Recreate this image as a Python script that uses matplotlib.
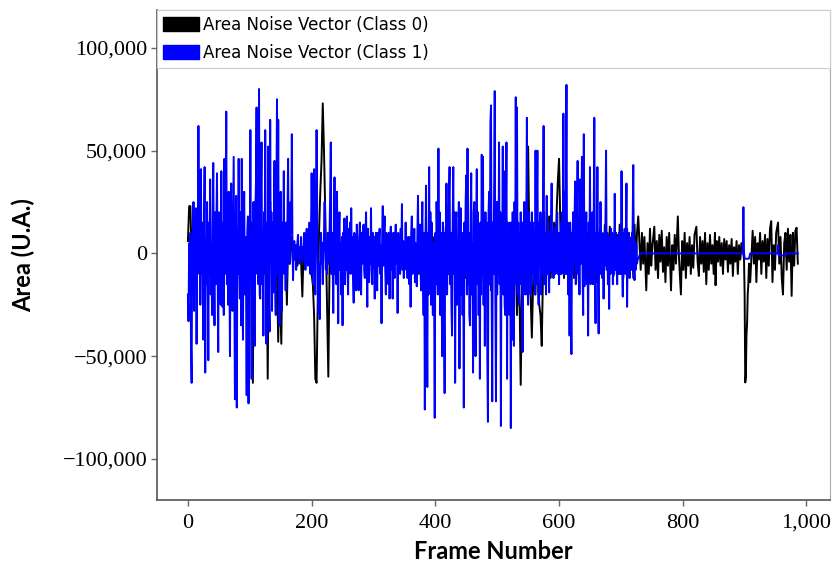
import matplotlib
matplotlib.use("Agg")
import matplotlib.pyplot as plt
from matplotlib.patches import Patch
from matplotlib.ticker import FuncFormatter
import numpy as np

# (frame, area in thousands)
CLASS0_POINTS = [
    (0, 6), (2, 23), (4, 23), (6, -1), (8, 7), (11, 0), (14, 4), (17, -4), (20, 2), (23, -3),
    (26, 5), (29, -2), (32, 3), (35, -5), (38, 2), (41, -3), (44, 6), (47, -2), (50, 3), (53, -4),
    (56, 2), (59, -2), (62, 4), (65, -3), (68, 1), (71, -4), (74, 3), (77, -2), (80, 5), (83, -3),
    (86, 2), (89, -4), (92, 3), (95, -2), (98, 4), (101, 2), (103, 15), (105, -63), (107, 25), (109, 5),
    (112, -8), (115, 10), (118, -5), (121, 8), (124, -10), (127, 12), (129, -61), (131, 10), (133, 25), (135, -5),
    (138, 8), (141, -15), (143, 10), (146, -43), (148, -10), (151, -44), (153, 5), (156, -8), (158, 3), (160, -25),
    (162, 5), (165, -5), (168, 8), (171, -3), (174, 4), (177, -6), (180, 3), (183, -4), (185, -21), (187, 2),
    (190, 5), (193, -3), (196, 4), (199, -8), (202, -15), (204, -30), (206, -61), (208, -63), (210, -20), (212, 10),
    (214, 30), (216, 45), (218, 73), (220, 50), (222, 20), (224, -10), (227, -60), (229, -5), (232, 5), (235, -3),
    (238, 6), (241, -4), (244, 3), (247, -6), (250, 2), (253, -5), (256, 4), (259, -8), (262, 3), (265, -4),
    (268, 7), (271, -5), (274, 2), (277, -6), (280, 4), (283, -3), (286, 5), (289, -7), (292, 2), (295, -4),
    (298, 6), (301, -3), (304, 8), (307, -5), (310, 3), (313, -6), (316, 4), (319, -3), (322, 5), (325, -8),
    (328, 2), (331, -4), (334, 10), (337, -3), (340, 4), (343, -9), (346, 2), (349, -6), (352, 3), (355, -2),
    (358, 5), (361, -4), (364, 3), (367, -6), (370, 4), (373, -3), (376, 2), (379, -5), (382, 3), (385, -12),
    (387, -19), (390, 5), (393, -6), (396, 8), (399, -3), (403, 8), (406, -10), (409, 5), (412, -15), (415, 10),
    (418, -8), (421, 12), (424, -14), (427, 6), (430, -10), (433, 15), (436, -6), (439, 10), (442, -18), (445, 8),
    (448, -12), (451, 14), (454, -5), (457, 10), (460, -15), (463, 6), (466, -8), (469, 12), (472, -10), (475, 5),
    (478, -14), (481, 15), (484, -8), (487, 10), (490, -18), (493, 8), (496, -10), (499, 14), (502, -6), (505, 18),
    (508, -12), (511, 10), (514, -20), (517, 12), (520, -8), (523, 15), (526, -25), (529, 10), (532, -30), (535, 5),
    (537, -40), (538, -64), (540, -20), (542, 15), (544, -10), (546, 20), (548, 10), (550, 52), (552, 5), (554, -20),
    (556, -41), (558, -15), (560, 10), (562, -20), (564, 15), (566, -10), (568, -25), (570, -30), (572, -45), (574, -10),
    (576, 20), (578, -15), (580, 10), (582, -8), (584, 18), (586, -12), (588, 5), (590, -10), (592, 15), (594, -5),
    (596, 20), (598, 35), (600, 46), (602, 15), (604, -8), (606, 10), (608, -12), (610, 18), (612, -10), (614, 8),
    (616, -15), (618, 12), (620, -6), (622, 10), (624, -12), (626, 15), (628, -8), (630, 6), (632, -14), (634, 12),
    (636, -5), (638, 9), (640, -10), (642, 14), (644, -6), (646, 10), (648, -12), (650, 8), (652, -9), (654, 12),
    (656, -5), (658, 10), (660, -14), (662, 8), (664, -7), (666, 12), (668, -10), (670, 5), (672, -12), (674, 14),
    (676, -6), (678, 10), (680, -9), (682, 13), (684, -5), (686, 8), (688, -11), (690, 12), (692, -4), (694, 9),
    (696, -10), (698, 14), (700, -6), (702, 10), (704, -12), (706, 8), (708, -5), (710, 12), (712, -10), (714, 6),
    (716, -8), (718, 10), (720, -12), (722, 14), (724, -6), (726, 10), (728, 18), (730, 5), (732, -8), (734, 10),
    (736, -5), (738, 8), (741, -18), (743, 5), (745, -10), (747, 12), (749, -6), (751, 4), (754, 13), (756, -8),
    (758, 6), (760, -12), (762, 9), (764, -4), (766, 11), (768, -9), (770, 3), (772, -14), (774, 8), (776, -6),
    (778, 10), (781, -18), (783, 4), (785, -8), (787, 9), (789, -5), (792, 18), (794, -3), (797, -20), (799, 6),
    (801, -8), (803, 10), (805, -12), (807, 5), (809, -6), (811, 8), (813, -10), (815, 4), (817, -7), (819, 9),
    (822, 13), (824, -4), (826, -11), (828, 8), (830, -5), (832, 6), (834, -9), (836, 10), (838, -15), (840, 5),
    (842, -8), (844, 9), (846, -5), (848, 4), (850, -10), (852, 10), (853, -15.5), (855, 6), (857, -4), (859, 8),
    (861, -6), (863, 5), (865, -10), (867, 7), (869, -3), (871, 6), (873, -9), (875, 4), (877, -5), (879, 7),
    (881, -11), (883, 3), (885, -4), (887, 6), (889, -10), (891, 4), (893, -3), (895, 5), (897, 2), (899, -3),
    (900, -20), (901, -62.8), (902, -60), (903, -40), (904, -33.6), (905, -20), (906, -15), (907, -5), (909, -14), (911, -2),
    (913, 11), (915, -5), (917, 8), (919, -14), (921, 5), (923, -3), (925, 10), (927, -10), (929, 6), (931, -4),
    (933, 9), (935, -12), (937, 7), (939, -6), (941, 12), (943, 15.7), (945, -14), (947, 4), (949, -8), (951, 10),
    (954, 15), (956, -5), (958, 8), (960, -12), (962, -20), (964, 5), (966, 10), (968, -8), (970, 12), (972, -4),
    (974, 9), (976, -20.7), (978, 10), (980, -6), (982, 11), (984, 12.5), (986, -5),
]

CLASS1_POINTS = [
    # frames 0-170
    (0, -20), (1, -33), (2, 5), (3, -15), (4, 10), (5, -45), (6, -63), (7, 8), (8, -20), (9, 25),
    (10, -28), (11, 15), (12, -5), (13, 22), (14, -44), (15, 10), (16, -10), (17, 62), (18, 5), (19, 20),
    (20, -25), (21, 41), (22, -10), (23, 15), (24, -20), (25, -42), (26, 10), (27, 42), (28, -58), (29, 5),
    (30, -15), (31, 25), (32, -5), (33, -52), (34, 15), (35, -10), (36, 36), (37, -20), (38, 5), (39, -30),
    (40, 15), (41, 44), (42, -10), (43, -35), (44, 20), (45, -15), (46, 10), (47, 39), (48, -5), (49, -48),
    (50, 20), (51, -15), (52, 5), (53, -25), (54, 40), (55, -5), (56, -26), (57, 15), (58, -30), (59, 46),
    (60, -10), (61, 5), (62, 69), (63, -15), (64, 10), (65, -25), (66, 30), (67, -5), (68, -50), (69, 15),
    (70, 34), (71, -20), (72, -28), (73, 10), (74, 47), (75, -15), (76, -71), (77, 5), (78, 28), (79, -75),
    (80, 10), (81, -10), (82, 46), (83, -5), (84, -22), (85, 20), (86, -35), (87, 46), (88, -10), (89, -42),
    (90, 15), (91, 30), (92, -20), (93, 8), (94, -15), (95, -69), (96, 10), (97, 18), (98, -73), (99, 15),
    (100, -5), (101, 60), (102, -15), (103, -61), (104, 10), (105, -20), (106, 25), (107, -10), (108, -45), (109, 20),
    (110, 35), (111, 71), (112, -10), (113, 20), (114, -15), (115, 80), (116, -20), (117, -22), (118, 25), (119, 54),
    (120, -15), (121, 10), (122, -40), (123, 20), (124, -5), (125, 60), (126, -10), (127, -44), (128, 15), (129, -10),
    (130, 52), (131, -20), (132, -38), (133, 65), (134, -5), (135, 20), (136, -28), (137, 15), (138, -19), (139, 10),
    (140, 45), (141, -15), (142, -30), (143, 20), (144, 75), (145, -10), (146, 65), (147, -15), (148, -35), (149, 15),
    (150, 30), (151, -10), (152, -28), (153, 15), (154, -5), (155, 40), (156, -10), (157, 10), (158, -18), (159, 15),
    (160, -12), (161, 20), (162, 46), (163, -5), (164, 15), (165, -5), (166, 25), (167, 10), (168, 58), (169, 5),
    # frames 170-230
    (170, -13), (171, 2), (172, 6), (173, -3), (174, 4), (175, -8), (176, 2), (177, 5), (178, 9), (179, -2),
    (180, -5), (181, 3), (182, -2), (183, 8), (184, 1), (185, -4), (186, 3), (187, -2), (188, 10), (189, 2),
    (190, -8), (191, 4), (192, 12), (193, 0), (194, -6), (195, 5), (196, 15), (197, 2), (198, -10), (199, 10),
    (200, 39), (201, 10), (202, -15), (203, 15), (204, 41), (205, 0), (206, -20), (207, 20), (208, 60), (209, 20),
    (210, -10), (211, -29), (212, -5), (213, -32), (214, -5), (215, 10), (216, -5), (217, 5), (218, -15), (219, 0),
    (220, 10), (221, 25), (222, 5), (223, -8), (224, 5), (225, -10), (226, 10), (227, -5), (228, -5), (229, 10),
    # frames 230-380
    (230, 30), (231, 54), (232, -10), (233, 10), (234, -5), (235, -29), (236, 5), (237, 37), (238, -10), (239, 10),
    (240, -15), (241, 30), (242, -5), (243, -34), (244, 10), (245, 20), (246, -8), (247, 5), (248, -20), (249, 8),
    (250, -35), (251, 10), (252, -5), (253, 17), (254, -15), (255, 5), (256, -8), (257, 18), (258, -6), (259, -20),
    (260, 12), (261, -5), (262, 15), (263, -10), (264, 22), (265, -5), (266, 8), (267, -12), (268, -24), (269, 10),
    (270, 5), (271, -8), (272, -18), (273, 14), (274, 3), (275, -10), (276, -18), (277, 8), (278, 15), (279, -5),
    (280, -20), (281, 10), (282, -5), (283, 12), (284, 14), (285, -8), (286, -12), (287, 10), (288, 20), (289, -5),
    (290, -26), (291, 12), (292, -3), (293, -14), (294, 8), (295, -5), (296, 22), (297, -8), (298, -15), (299, 10),
    (300, -3), (301, 8), (302, -22), (303, 6), (304, 10), (305, -8), (306, -18), (307, 10), (308, -6), (309, 8),
    (310, 12), (311, -10), (312, 4), (313, -34), (314, 8), (315, 23), (316, -6), (317, 10), (318, 18), (319, -8),
    (320, -20), (321, 10), (322, -4), (323, 8), (324, -15), (325, 10), (326, -22), (327, 6), (328, 13), (329, -8),
    (330, 5), (331, -22), (332, 10), (333, 3), (334, -12), (335, 6), (336, 14), (337, -5), (338, 8), (339, -29),
    (340, 10), (341, -5), (342, 8), (343, -10), (344, 12), (345, -4), (346, 24), (347, -8), (348, 6), (349, -12),
    (350, 5), (351, -5), (352, 15), (353, -8), (354, 4), (355, -12), (356, 8), (357, -5), (358, -15), (359, 8),
    (360, -26), (361, 10), (362, 18), (363, -10), (364, 6), (365, -8), (366, 12), (367, -14), (368, 5), (369, -8),
    (370, -16), (371, 10), (372, 28), (373, -10), (374, 5), (375, 14), (376, -8), (377, -18), (378, 10), (379, 25),
    # frames 380-500
    (380, -10), (381, -30), (382, 10), (383, -76), (384, 5), (385, 33), (386, -15), (387, -65), (388, 10), (389, -20),
    (390, 42), (391, -10), (392, 20), (393, -25), (394, 15), (395, -10), (396, -30), (397, 5), (398, -20), (399, -80),
    (400, 10), (401, -15), (402, 25), (403, 5), (404, -20), (405, 51), (406, -10), (407, 20), (408, -30), (409, 10),
    (410, -5), (411, -50), (412, 15), (413, 12), (414, -30), (415, -68), (416, 10), (417, -15), (418, 34), (419, -20),
    (420, 5), (421, -10), (422, 25), (423, 42), (424, -15), (425, 10), (426, -25), (427, -40), (428, 15), (429, 42),
    (430, -10), (431, 20), (432, -63), (433, 15), (434, 20), (435, -25), (436, 5), (437, -15), (438, 25), (439, -56),
    (440, 10), (441, 22), (442, -20), (443, 10), (444, -30), (445, 5), (446, -75), (447, 15), (448, -10), (449, 25),
    (450, 38), (451, -20), (452, 51), (453, -15), (454, 10), (455, -30), (456, -35), (457, 15), (458, 39), (459, -20),
    (460, 5), (461, -58), (462, 20), (463, 25), (464, -15), (465, -50), (466, 10), (467, 41), (468, -15), (469, 20),
    (470, -30), (471, 10), (472, -61), (473, 15), (474, -20), (475, 48), (476, -10), (477, 47), (478, -25), (479, 10),
    (480, -45), (481, 20), (482, -10), (483, 15), (484, -50), (485, -82), (486, 20), (487, 30), (488, -15), (489, 63),
    (490, 72), (491, -20), (492, -72), (493, 15), (494, -10), (495, 30), (496, 79), (497, -20), (498, -72), (499, 25),
    # frames 500-600
    (500, -20), (501, 25), (502, -10), (503, 54), (504, -15), (505, 20), (506, -84), (507, 15), (508, -10), (509, 52),
    (510, -20), (511, 40), (512, -25), (513, -30), (514, 20), (515, 54), (516, -61), (517, 15), (518, -20), (519, 10),
    (520, -30), (521, 15), (522, -85), (523, 10), (524, -42), (525, 20), (526, -15), (527, -45), (528, 25), (529, -10),
    (530, 76), (531, -15), (532, 71), (533, -20), (534, 15), (535, -25), (536, 10), (537, -15), (538, 20), (539, -10),
    (540, 15), (541, -48), (542, 10), (543, -20), (544, 25), (545, -10), (546, -20), (547, 15), (548, 66), (549, -15),
    (550, -25), (551, 20), (552, -10), (553, 15), (554, -20), (555, -5), (556, 20), (557, -10), (558, 15), (559, -15),
    (560, 10), (561, -20), (562, 50), (563, -15), (564, 20), (565, 50), (566, -10), (567, -25), (568, 15), (569, -5),
    (570, 20), (571, -20), (572, 10), (573, -10), (574, 20), (575, 62), (576, -15), (577, 10), (578, -5), (579, -20),
    (580, 28), (581, -10), (582, 15), (583, -5), (584, -19), (585, 10), (586, -8), (587, 15), (588, 34), (589, -10),
    (590, 10), (591, -12), (592, 8), (593, 13), (594, -10), (595, 5), (596, -8), (597, 20), (598, -10), (599, 10),
    # frames 600-730
    (600, -15), (601, 10), (602, -10), (603, 15), (604, -10), (605, 20), (606, -5), (607, 68), (608, -10), (609, 30),
    (610, -10), (611, 25), (612, 82), (613, -10), (614, 15), (615, -20), (616, 10), (617, -40), (618, 15), (619, -15),
    (620, -49), (621, 10), (622, -10), (623, 20), (624, -5), (625, 15), (626, 35), (627, -15), (628, -5), (629, 20),
    (630, 45), (631, -10), (632, 10), (633, -20), (634, 36), (635, -5), (636, 15), (637, 47), (638, -10), (639, -30),
    (640, 58), (641, -16), (642, 10), (643, -10), (644, 20), (645, -15), (646, 5), (647, -40), (648, 15), (649, -10),
    (650, 42), (651, -15), (652, 5), (653, -10), (654, 20), (655, -15), (656, 15), (657, 66), (658, -10), (659, -34),
    (660, 10), (661, -10), (662, 42), (663, -15), (664, -39), (665, 10), (666, -10), (667, 25), (668, -5), (669, 10),
    (670, -12), (671, 8), (672, -22), (673, 10), (674, -5), (675, 15), (676, 50), (677, -8), (678, 10), (679, -15),
    (680, 5), (681, -27), (682, 8), (683, -10), (684, 12), (685, -8), (686, 10), (687, -15), (688, 8), (689, -10),
    (690, 29), (691, -8), (692, 10), (693, -5), (694, -15), (695, 8), (696, -6), (697, 10), (698, -10), (699, 8),
    (700, -10), (701, 40), (702, -5), (703, -21), (704, 10), (705, -8), (706, 12), (707, -10), (708, 8), (709, 34),
    (710, -26), (711, 6), (712, -8), (713, 10), (714, -12), (715, 5), (716, -6), (717, 8), (718, -8), (719, 15),
    (720, 43), (721, -5), (722, -13), (723, 6), (724, -8), (725, 4), (726, -5), (727, -3), (729, -2), (731, 0),
    # flat tail
    (897, 0), (898, 22.5), (899, 1), (900, -2.6), (907, -2.6), (909, 0), (953, 0), (954, 4), (955, -1), (966, -1),
    (968, 0), (986, 0),
]

LABELS = ["Area Noise Vector (Class 0)", "Area Noise Vector (Class 1)"]
COLORS = ["black", "blue"]
Y_TICKS = [-100000, -50000, 0, 50000, 100000]
X_TICKS = [0, 200, 400, 600, 800, 1000]


def unpack(points):
    frames = np.array([p[0] for p in points], dtype=float)
    area = np.array([p[1] for p in points], dtype=float) * 1000
    return frames, area


fig = plt.figure(figsize=(8.35, 5.64), dpi=100)
ax = fig.add_axes([0.188, 0.1135, 0.806, 0.869])

for points, color in zip([CLASS0_POINTS, CLASS1_POINTS], COLORS):
    x, y = unpack(points)
    ax.plot(x, y, color=color, linewidth=1.4)

ax.set_xlim(-50, 1038)
ax.set_ylim(-120000, 118500)
ax.set_xticks(X_TICKS)
ax.set_yticks(Y_TICKS)

fmt = FuncFormatter(lambda v, _: f"{v:,.0f}".replace("-", "\u2212"))
ax.xaxis.set_major_formatter(fmt)
ax.yaxis.set_major_formatter(fmt)

for lab in ax.get_xticklabels() + ax.get_yticklabels():
    lab.set_family("Liberation Serif")
    lab.set_fontsize(16)
ax.tick_params(axis="both", direction="out", length=4, width=1, color="#666666")
ax.tick_params(axis="y", pad=3)
ax.tick_params(axis="x", pad=6)

for side in ["left", "bottom"]:
    ax.spines[side].set_color("#555555")
    ax.spines[side].set_linewidth(1.2)
for side in ["top", "right"]:
    ax.spines[side].set_color("#aaaaaa")
    ax.spines[side].set_linewidth(0.8)

ax.set_xlabel("Frame Number", family="Lato", fontweight="bold", fontsize=17, labelpad=5)
ax.set_ylabel("Area (U.A.)", family="Lato", fontweight="bold", fontsize=17, labelpad=20)

handles = [Patch(facecolor=c, edgecolor=c) for c in COLORS]
leg = ax.legend(handles, LABELS, loc="upper left", bbox_to_anchor=(0, 1, 1, 0), mode="expand",
                borderaxespad=0, fontsize=12, fancybox=False, framealpha=1, edgecolor="#cccccc",
                handlelength=2.2, handleheight=0.85, handletextpad=0.2, labelspacing=0.6,
                borderpad=0.35)
leg.get_frame().set_linewidth(0.8)

plt.savefig("out.png", dpi=100)
plt.close()
